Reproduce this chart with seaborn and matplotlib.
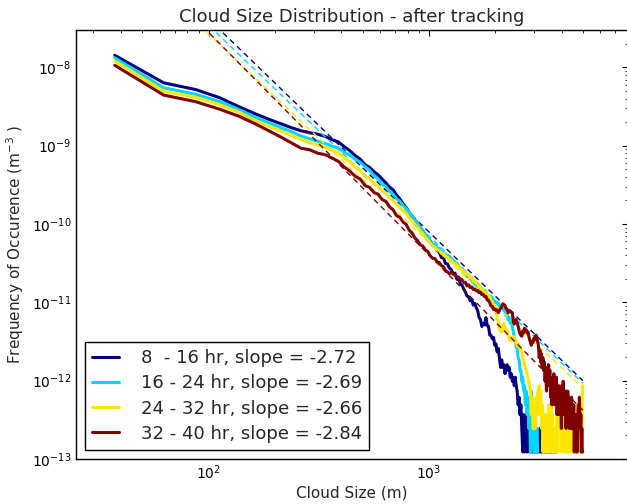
import numpy as np
import pandas as pd
import matplotlib
matplotlib.use("Agg")
import matplotlib.pyplot as plt
import matplotlib.ticker as mticker
import seaborn as sns

# cloud size bins (25 m wide), centres 37.5 m ... 4987.5 m
bin_width = 25.0
cloud_size = np.arange(199) * bin_width + 1.5 * bin_width
count_unit = 1.23e-13  # m^-3 per cloud in a bin

# clouds counted per size bin, one list per tracking period
counts_08_16 = [
    115900, 51600, 42300, 33200, 25500, 20800, 17700, 15500, 13800, 12600,
    11900, 11400, 10700, 9700, 9100, 7900, 7000, 6100, 5450, 4650,
    4300, 3800, 3450, 3050, 2720, 2400, 2220, 1900, 1700, 1480,
    1320, 1140, 1030, 910, 840, 730, 665, 590, 550,
    495, 440, 425, 375, 355, 305, 300, 255, 252, 222,
    214, 186, 192, 160, 162, 140, 134, 120, 110, 98,
    96, 85, 89, 75, 79, 70, 64, 52, 49, 40,
    44, 42, 52, 41, 40, 31, 31, 28, 29, 23,
    24, 19, 21, 16, 12, 15, 12, 13, 10, 12,
    13, 11, 12, 9, 10, 8, 9, 7, 9, 7,
    6, 4, 5, 3, 4, 2, 1, 3, 1, 2,
    3, 1, 2, 2, 1, 1, 2, 1, 1, 2,
    1, 2, 1, 2, 1, 1, 1, 2, 1, 1,
    1, 2, 1, 1, 1, 2, 1, 1, 2, 1,
    1, 1, 2, 1, 1, 1, 2, 1, 1, 1,
    1,
]
counts_16_24 = [
    107600, 44600, 36800, 29600, 23400, 18750, 15950, 13860, 12250, 10820,
    9970, 9270, 8700, 8000, 7650, 6700, 6150, 5450, 5000, 4380,
    3960, 3380, 3040, 2620, 2440, 2100, 1950, 1710, 1590, 1400,
    1290, 1130, 1040, 900, 835, 730, 668, 585, 550,
    491, 450, 450, 400, 398, 362, 345, 332, 318, 295,
    295, 278, 268, 250, 238, 222, 222, 196, 199, 174,
    176, 164, 154, 146, 140, 130, 126, 117, 116, 107,
    108, 102, 100, 94, 96, 92, 91, 86, 87, 82,
    82, 79, 76, 74, 72, 70, 68, 64, 62, 55,
    57, 49, 52, 44, 48, 40, 35, 28, 27, 22,
    21, 16, 15, 11, 11, 8, 9, 6, 7, 4,
    6, 3, 5, 2, 3,
    1, 6, 2, 4, 1, 1, 3, 1, 2, 1,
]
counts_24_32 = [
    98000, 40300, 33700, 27000, 21700, 16900, 14400, 12500, 10900, 9740,
    8870, 8280, 7760, 7100, 6600, 5700, 5080, 4300, 3900, 3300,
    3080, 2660, 2470, 2170, 2010, 1760, 1640, 1430, 1335, 1185,
    1115, 980, 895, 800, 740, 660, 612, 545, 512,
    460, 425, 410, 380, 372, 345, 340, 310, 308, 286,
    280, 258, 256, 238, 236, 220, 215, 198, 197, 182,
    185, 168, 170, 152, 155, 142, 141, 129, 130, 118,
    120, 106, 110, 98, 101, 94, 82, 84, 70, 72,
    62, 50, 48, 36, 35, 34, 41, 44, 38, 37,
    35, 30, 29, 26, 29, 27, 30, 28, 25, 26,
    23, 24, 21, 22, 20, 19, 16, 15, 13, 12,
    11, 10, 9, 8, 7,
    6, 3, 5, 2, 2, 4, 2, 5, 3, 6,
    4, 7, 3, 6, 2, 4, 1, 3, 2, 1,
    3, 1, 2, 1, 4, 1, 3, 2, 4, 1,
    3, 1, 2, 1, 1, 2, 1, 3, 1, 4,
    2, 5, 3, 4, 1, 5, 2, 3, 1, 2,
    1, 1, 3, 1, 1, 2, 1, 3, 1, 2,
    3, 1, 2, 1, 1, 1, 2, 1, 1, 3,
    1, 3, 2, 4, 1, 3, 1, 2, 1, 1,
    1, 2, 1, 5, 7,
]
counts_32_40 = [
    86300, 36000, 29600, 23700, 19300, 15500, 12600, 10500, 8810, 7550,
    7210, 6510, 6250, 5650, 5150, 4350, 3850, 3300, 3050, 2520,
    2380, 2050, 1950, 1670, 1580, 1340, 1230, 1040, 990, 860,
    805, 680, 625, 540, 500, 440, 425, 380, 362,
    320, 298, 295, 268, 262, 240, 232, 205, 200, 188,
    196, 188, 183, 170, 171, 160, 158, 145, 146, 132,
    136, 126, 128, 119, 120, 114, 115, 108, 109, 102,
    103, 96, 97, 87, 86, 80, 73, 72, 66, 67,
    64, 65, 60, 64, 68, 71, 78, 76, 74, 68,
    66, 60, 64, 63, 61, 60, 46, 43, 47, 49,
    45, 40, 36, 32, 31, 30, 35, 33, 38, 36,
    36, 33, 34, 30, 27, 25, 23, 26, 25, 28,
    27, 30, 31, 28, 25,
    23, 16, 20, 14, 18, 12, 16, 11, 14, 8,
    11, 6, 12, 7, 13, 9, 11, 5, 8, 4,
    9, 5, 10, 4, 8, 6, 9, 3, 7, 5,
    3, 7, 4, 6, 2, 7, 3, 8, 4, 5,
    3, 6, 2, 5, 3, 6, 3, 5, 2, 4,
    4, 2, 5, 2, 3, 2, 4, 1, 3, 2,
    3, 1, 2, 1, 3, 4, 2, 5, 3, 2,
    3, 1, 2, 1, 1,
]

series = [counts_08_16, counts_16_24, counts_24_32, counts_32_40]
periods = ["8  - 16 hr", "16 - 24 hr", "24 - 32 hr", "32 - 40 hr"]
slopes = [-2.72, -2.69, -2.66, -2.84]
fit_at_1km = [7.91e-11, 7.01e-11, 5.82e-11, 4.03e-11]  # power-law fit value at 1000 m

sns.set_style("white")
plt.rcParams.update({
    "font.family": ["DejaVu Sans"],
    "xtick.direction": "in", "ytick.direction": "in",
    "xtick.top": True, "ytick.right": True,
    "xtick.major.size": 4, "ytick.major.size": 4,
    "xtick.minor.size": 2, "ytick.minor.size": 2,
    "xtick.minor.visible": True, "ytick.minor.visible": True,
    "xtick.color": "black", "ytick.color": "black",
    "axes.edgecolor": "black", "axes.linewidth": 1.0,
})

colors = plt.cm.jet(np.linspace(0, 1, 4))

fig = plt.figure(figsize=(6.27, 5.04), dpi=100)
ax = fig.add_axes([76 / 627, 45 / 504, 552 / 627, 429 / 504])
ax.set_xscale("log")
ax.set_yscale("log")

for counts, period, slope, amp, col in zip(series, periods, slopes, fit_at_1km, colors):
    df = pd.DataFrame({"size": cloud_size[:len(counts)],
                       "freq": np.array(counts) * count_unit})
    sns.lineplot(data=df, x="size", y="freq", color=col, lw=2.2,
                 estimator=None, sort=False, ax=ax,
                 label=f"{period}, slope = {slope:.2f}")
    ax.plot(cloud_size, amp * (cloud_size / 1000.0) ** slope, color=col,
            lw=1.0, dashes=(4, 3))

ax.set_xlim(25, 8000)
ax.set_ylim(1e-13, 3e-8)
ax.xaxis.set_minor_formatter(mticker.NullFormatter())
ax.yaxis.set_minor_formatter(mticker.NullFormatter())
ax.tick_params(labelsize=10)
ax.set_title("Cloud Size Distribution - after tracking", fontsize=13)
ax.set_xlabel("Cloud Size (m)", fontsize=11, labelpad=2)
ax.set_ylabel("Frequency of Occurence (m$^{-3}$ )", fontsize=11)

leg = ax.legend(loc="lower left", fontsize=13, labelspacing=0.4,
                handlelength=1.5, handletextpad=1.2, fancybox=False,
                framealpha=1, edgecolor="black")
leg.get_frame().set_linewidth(1.0)

fig.savefig("out.png", dpi=100)
